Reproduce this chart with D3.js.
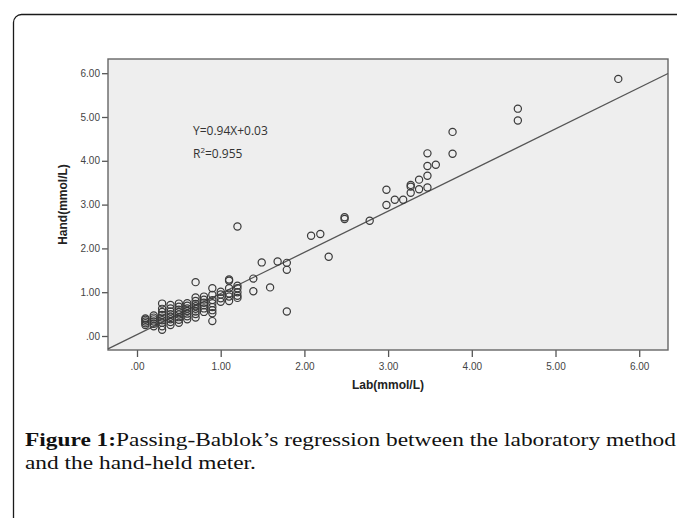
<!DOCTYPE html>
<html>
<head>
<meta charset="utf-8">
<script src="https://cdn.jsdelivr.net/npm/d3@7"></script>
<style>
  body { margin: 0; background: #fff; }
</style>
</head>
<body>
<script>
// Lab values (x) and hand-held values (y)
var labVals = [
  0.1,0.1,0.1,0.1,0.1,
  0.2,0.2,0.2,0.2,0.2,0.2,
  0.3,0.3,0.3,0.3,0.3,0.3,0.3,0.3,0.3,
  0.4,0.4,0.4,0.4,0.4,0.4,0.4,0.4,
  0.5,0.5,0.5,0.5,0.5,0.5,0.5,0.5,
  0.6,0.6,0.6,0.6,0.6,0.6,0.6,
  0.7,0.7,0.7,0.7,0.7,0.7,0.7,0.7,0.7,
  0.8,0.8,0.8,0.8,0.8,0.8,
  0.9,0.9,0.9,0.9,0.9,0.9,0.9,0.9,
  1.0,1.0,1.0,1.0,
  1.1,1.1,1.1,1.1,1.1,1.1,
  1.2,1.2,1.2,1.2,1.2,1.2,
  1.39,1.39,1.49,1.59,1.68,1.79,1.79,1.79,
  2.08,2.19,2.29,2.48,2.48,2.78,
  2.98,2.98,3.08,3.18,3.27,3.27,3.27,3.37,3.37,3.47,3.47,3.47,3.47,3.57,
  3.77,3.77,4.55,4.55,5.75
];
var handVals = [
  0.25,0.29,0.33,0.37,0.40,
  0.22,0.28,0.33,0.38,0.42,0.47,
  0.14,0.22,0.30,0.36,0.42,0.48,0.55,0.62,0.74,
  0.25,0.32,0.38,0.44,0.50,0.56,0.63,0.71,
  0.30,0.37,0.43,0.49,0.55,0.60,0.67,0.74,
  0.38,0.45,0.51,0.57,0.63,0.69,0.75,
  0.42,0.50,0.56,0.62,0.68,0.73,0.80,0.88,1.23,
  0.55,0.63,0.70,0.76,0.83,0.90,
  0.34,0.52,0.59,0.66,0.75,0.82,0.94,1.09,
  0.78,0.86,0.95,1.01,
  0.80,0.90,0.97,1.09,1.26,1.29,
  0.87,0.92,1.00,1.09,1.15,2.50,
  1.31,1.02,1.68,1.11,1.70,1.67,1.51,0.56,
  2.29,2.33,1.81,2.71,2.67,2.63,
  3.34,2.99,3.11,3.11,3.45,3.41,3.27,3.57,3.35,4.17,3.88,3.66,3.39,3.91,
  4.66,4.16,5.19,4.92,5.87
];
var xTicks = [0, 1, 2, 3, 4, 5, 6];
var yTicks = [0, 1, 2, 3, 4, 5, 6];
var slope = 0.94, intercept = 0.03;

var W = 677, H = 518;
var svg = d3.select('body').append('svg')
  .attr('width', W).attr('height', H);

// outer rounded frame (runs off right and bottom)
svg.append('rect')
  .attr('x', 13.5).attr('y', 14.5)
  .attr('width', 700).attr('height', 540)
  .attr('rx', 8).attr('ry', 8)
  .attr('fill', 'none').attr('stroke', '#1a1a1a').attr('stroke-width', 1.3);

var plot = {left: 108, right: 668, top: 59, bottom: 350};

var x = d3.scaleLinear().domain([-0.3465, 6.344]).range([plot.left, plot.right]);
var y = d3.scaleLinear().domain([-0.3196, 6.324]).range([plot.bottom, plot.top]);

svg.append('rect')
  .attr('x', plot.left).attr('y', plot.top)
  .attr('width', plot.right - plot.left).attr('height', plot.bottom - plot.top)
  .attr('fill', '#eeeeee');

var fmt = d => d === 0 ? '.00' : d3.format('.2f')(d);

svg.append('g')
  .attr('transform', `translate(0,${plot.bottom})`)
  .call(d3.axisBottom(x).tickValues(xTicks).tickFormat(fmt).tickSize(7).tickSizeOuter(0))
  .call(g => g.select('.domain').remove())
  .call(g => g.selectAll('line').attr('stroke', '#555').attr('stroke-width', 1.3))
  .call(g => g.selectAll('text').attr('fill', '#444').attr('dy', '1.0em')
    .attr('font-family', 'Liberation Sans, Arial, sans-serif').attr('font-size', '10px'));

svg.append('g')
  .attr('transform', `translate(${plot.left},0)`)
  .call(d3.axisLeft(y).tickValues(yTicks).tickFormat(fmt).tickSize(6).tickSizeOuter(0))
  .call(g => g.select('.domain').remove())
  .call(g => g.selectAll('line').attr('stroke', '#555').attr('stroke-width', 1.3))
  .call(g => g.selectAll('text').attr('fill', '#444').attr('x', -8)
    .attr('font-family', 'Liberation Sans, Arial, sans-serif').attr('font-size', '10px'));

// plot frame
svg.append('rect')
  .attr('x', plot.left).attr('y', plot.top)
  .attr('width', plot.right - plot.left).attr('height', plot.bottom - plot.top)
  .attr('fill', 'none').attr('stroke', '#666').attr('stroke-width', 1.4);

// regression line
var x0 = x.domain()[0], x1 = x.domain()[1];
svg.append('line')
  .attr('x1', x(x0)).attr('y1', y(slope * x0 + intercept))
  .attr('x2', x(x1)).attr('y2', y(slope * x1 + intercept))
  .attr('stroke', '#555').attr('stroke-width', 1.3);

// points
svg.append('g')
  .selectAll('circle')
  .data(d3.range(labVals.length))
  .enter().append('circle')
  .attr('cx', i => x(labVals[i]))
  .attr('cy', i => y(handVals[i]))
  .attr('r', 3.6)
  .attr('fill', 'none')
  .attr('stroke', '#3a3a3a')
  .attr('stroke-width', 1.2);

// equation
var eq = svg.append('g')
  .attr('font-family', 'Open Sans, Liberation Sans, sans-serif')
  .attr('font-size', '12px').attr('fill', '#333');
eq.append('text').attr('x', 193).attr('y', 135).text('Y=0.94X+0.03');
var r2 = eq.append('text').attr('x', 193).attr('y', 158);
r2.append('tspan').text('R');
r2.append('tspan').attr('dy', -5).attr('font-size', '8px').text('2');
r2.append('tspan').attr('dy', 5).text('=0.955');

// axis titles
svg.append('text')
  .attr('x', (plot.left + plot.right) / 2).attr('y', 389)
  .attr('text-anchor', 'middle')
  .attr('font-family', 'Liberation Sans, Arial, sans-serif')
  .attr('font-weight', 'bold').attr('font-size', '12px').attr('fill', '#222')
  .text('Lab(mmol/L)');

svg.append('text')
  .attr('transform', `translate(67,${(plot.top + plot.bottom) / 2}) rotate(-90)`)
  .attr('text-anchor', 'middle')
  .attr('font-family', 'Liberation Sans, Arial, sans-serif')
  .attr('font-weight', 'bold').attr('font-size', '12px').attr('fill', '#222')
  .text('Hand(mmol/L)');

// caption: glyphs widened a little so line 1 spans the width
var cap = svg.append('g')
  .attr('font-family', 'Liberation Serif, DejaVu Serif, serif')
  .attr('font-size', '18px')
  .attr('fill', '#111');
var line1 = cap.append('text').attr('x', 25).attr('y', 446);
line1.append('tspan').attr('font-weight', 'bold').text('Figure 1:');
line1.append('tspan').text('Passing-Bablok\u2019s regression between the laboratory method');
var line2 = cap.append('text').attr('x', 25).attr('y', 469)
  .text('and the hand-held meter.');
var w1 = line1.node().getComputedTextLength();
var w2 = line2.node().getComputedTextLength();
var k = 651 / w1;
line1.attr('textLength', 651).attr('lengthAdjust', 'spacingAndGlyphs');
line2.attr('textLength', w2 * k).attr('lengthAdjust', 'spacingAndGlyphs');
</script>
</body>
</html>
